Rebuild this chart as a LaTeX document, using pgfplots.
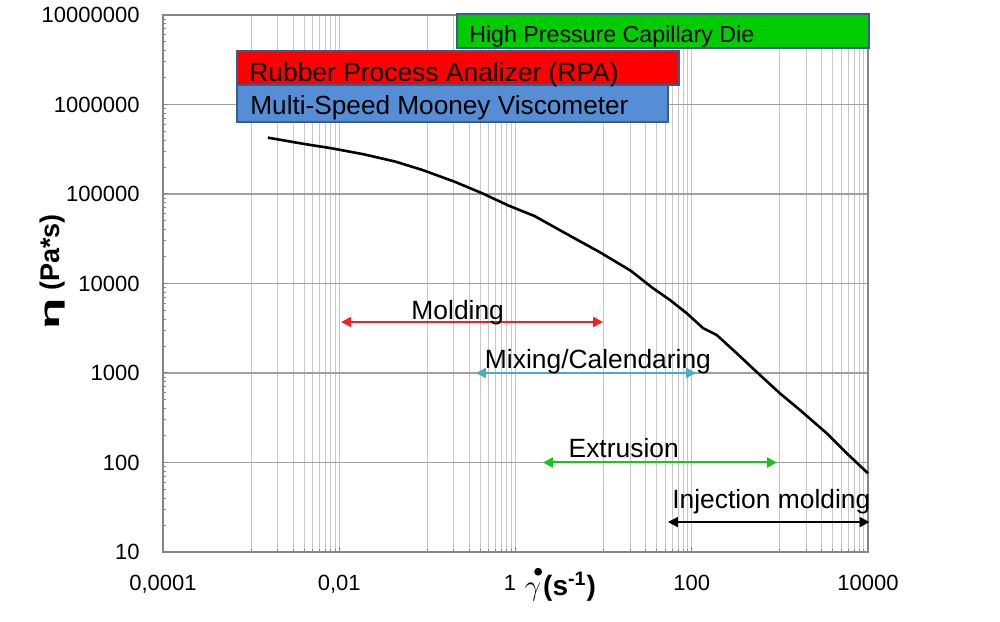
\documentclass[border=0pt]{standalone}
\usepackage{fontspec}
\setmainfont{Liberation Sans}
\usepackage{pgfplots}
\pgfplotsset{compat=1.18}
\usetikzlibrary{arrows.meta}
\definecolor{gridv}{HTML}{C8C8C8}
\definecolor{gridh}{HTML}{A0A0A0}
\definecolor{axisgray}{HTML}{868686}
\definecolor{boxgreen}{HTML}{00CC00}
\definecolor{boxred}{HTML}{FF0000}
\definecolor{boxblue}{HTML}{558ED5}
\definecolor{boxedge}{HTML}{385D8A}
\definecolor{mixcol}{HTML}{4BACC6}
\definecolor{extcol}{HTML}{1DC31D}
\definecolor{moldcol}{HTML}{F22222}
\begin{document}
\begin{tikzpicture}
\begin{axis}[
  xmode=log, ymode=log,
  scale only axis, width=352.5pt, height=268.5pt,
  xmin=1e-4, xmax=1e4, ymin=10, ymax=1e7,
  clip=false,
  xtick={1e-4,1e-2,1,100,1e4},
  xticklabels={{0,0001},{0,01},{\makebox[0pt]{1\kern5.5pt}},100,10000},
  minor xtick={1e-3,2e-3,3e-3,4e-3,5e-3,6e-3,7e-3,8e-3,9e-3,
               0.1,0.2,0.3,0.4,0.5,0.6,0.7,0.8,0.9,
               10,20,30,40,50,60,70,80,90,
               1000,2000,3000,4000,5000,6000,7000,8000,9000},
  ytick={10,100,1000,10000,100000,1000000,10000000},
  yticklabels={10,100,1000,10000,100000,1000000,10000000},
  minor ytick={20,30,40,50,60,70,80,90,
               200,300,400,500,600,700,800,900,
               2000,3000,4000,5000,6000,7000,8000,9000,
               20000,30000,40000,50000,60000,70000,80000,90000,
               200000,300000,400000,500000,600000,700000,800000,900000,
               2000000,3000000,4000000,5000000,6000000,7000000,8000000,9000000},
  xmajorgrids, xminorgrids, ymajorgrids, yminorgrids=false,
  x grid style={gridv, line width=0.5pt},
  y grid style={gridh, line width=0.6pt},
  axis line style={axisgray, line width=0.6pt},
  tick style={axisgray, line width=0.5pt},
  tick align=inside, tick pos=left,
  major tick length=2.5pt, minor tick length=1.5pt,
  /pgf/number format/assume math mode=true,
  ticklabel style={font=\fontsize{11}{13}\selectfont},
  yticklabel style={anchor=east, inner sep=0pt, xshift=-11.5pt},
  xticklabel style={anchor=north, inner sep=0pt, yshift=-11.5pt},
  xlabel={$\gamma$\llap{\raisebox{7.4pt}{\textbullet}\kern-1pt}\kern1pt\textbf{(s\textsuperscript{-1})}},
  xlabel style={at={(rel axis cs:0.5637,-0.0819)}, anchor=base, inner sep=0pt, font=\fontsize{14}{16}\selectfont},
  ylabel={\textbf{\scalebox{1.9}[1]{η} (Pa*s)}},
  ylabel style={at={(rel axis cs:-0.1574,0.522)}, anchor=center, inner sep=0pt, font=\fontsize{13.5}{15}\selectfont},
]
\coordinate (bbsw) at (rel axis cs:-0.23121,-0.12849);
\coordinate (bbne) at (rel axis cs:1.18723,1.02793);

\addplot[black, line width=1.3pt] coordinates {
 (1.55e-3,4.26e5) (4.02e-3,3.62e5) (8.2e-3,3.24e5) (0.0189,2.78e5)
 (0.0434,2.30e5) (0.0887,1.85e5) (0.204,1.37e5) (0.418,1.02e5)
 (0.853,7.35e4) (1.64,5.68e4) (3.16,3.96e4) (9.17,2.22e4)
 (20.5,1.38e4) (35.4,9020) (56.6,6540) (87.7,4650) (135,3160)
 (192,2660) (324,1660) (594,950) (1000,593) (1690,386)
 (3400,212) (5730,127) (10000,75.7)
};

% range arrows
\addplot[moldcol, line width=1pt, {Triangle[length=5pt,width=5pt]}-{Triangle[length=5pt,width=5pt]}] coordinates {(0.0105,3715) (9.84,3715)};
\addplot[mixcol, line width=1pt, {Triangle[length=5pt,width=5pt]}-{Triangle[length=5pt,width=5pt]}] coordinates {(0.356,1000) (112,1000)};
\addplot[extcol, line width=1pt, {Triangle[length=5pt,width=5pt]}-{Triangle[length=5pt,width=5pt]}] coordinates {(2.05,100) (927,100)};
\addplot[black, line width=1pt, {Triangle[length=5pt,width=5pt]}-{Triangle[length=5pt,width=5pt]}] coordinates {(53.7,21.6) (10400,21.6)};

\node[anchor=base, inner sep=0pt, font=\fontsize{13.2}{15}\selectfont] at (axis cs:0.221,3981) {Molding};
\node[anchor=base, inner sep=0pt, font=\fontsize{13.2}{15}\selectfont] at (axis cs:8.63,1129) {Mixing/Calendaring};
\node[anchor=base, inner sep=0pt, font=\fontsize{13.2}{15}\selectfont] at (axis cs:16.9,114) {Extrusion};
\node[anchor=base, inner sep=0pt, font=\fontsize{13.2}{15}\selectfont] at (axis cs:800,30.8) {Injection molding};

% instrument boxes
\draw[fill=boxblue, draw=boxedge, line width=0.75pt] (axis cs:6.92e-4,6.37e5) rectangle (axis cs:53.7,1.65e6);
\draw[fill=boxred, draw=boxedge, line width=0.75pt] (axis cs:6.92e-4,1.65e6) rectangle (axis cs:71.6,3.97e6);
\draw[fill=boxgreen, draw=boxedge, line width=0.75pt] (axis cs:0.217,4.27e6) rectangle (axis cs:1.026e4,1.026e7);
\node[anchor=base west, inner sep=0pt, font=\fontsize{13.1}{15}\selectfont] at (axis cs:9.7e-4,7.83e5) {Multi-Speed Mooney Viscometer};
\node[anchor=base west, inner sep=0pt, font=\fontsize{13.2}{15}\selectfont] at (axis cs:9.46e-4,1.80e6) {Rubber Process Analizer (RPA)};
\node[anchor=base west, inner sep=0pt, font=\fontsize{11.6}{13}\selectfont] at (axis cs:0.296,4.99e6) {High Pressure Capillary Die};
\end{axis}
\pgfresetboundingbox
\path[use as bounding box] (bbsw) rectangle (bbne);
\end{tikzpicture}
\end{document}
